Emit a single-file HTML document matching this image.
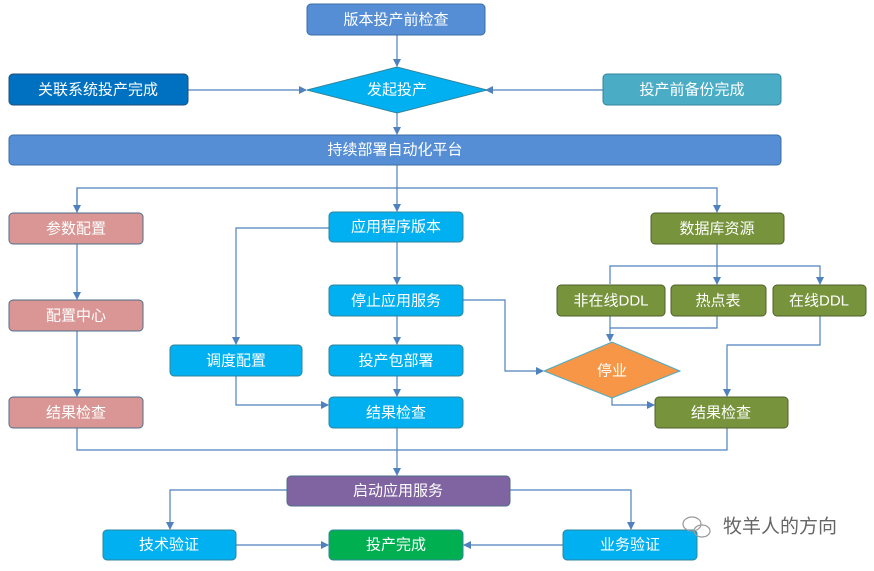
<!DOCTYPE html>
<html><head><meta charset="utf-8"><style>
body{margin:0;background:#fff;}
text{font-family:"Liberation Sans","Noto Sans CJK SC",sans-serif;font-size:15px;fill:#fff;text-anchor:middle;dominant-baseline:central;}
</style></head><body>
<svg width="874" height="566" viewBox="0 0 874 566" xmlns="http://www.w3.org/2000/svg">
<defs><marker id="a" markerWidth="8" markerHeight="8" refX="7" refY="4" orient="auto" markerUnits="userSpaceOnUse"><path d="M0,0 L8,4 L0,8 z" fill="#4f81bd"/></marker></defs>
<g fill="none" stroke="#4f81bd" stroke-width="1.2">
<path d="M397 35V66" marker-end="url(#a)"/>
<path d="M188 90H306" marker-end="url(#a)"/>
<path d="M603 90H486" marker-end="url(#a)"/>
<path d="M397 113V134" marker-end="url(#a)"/>
<path d="M397 165V211" marker-end="url(#a)"/>
<path d="M77 212V188H717V212" marker-end="url(#a)"/>
<path d="M77 188V212" marker-end="url(#a)"/>
<path d="M77 244V299" marker-end="url(#a)"/>
<path d="M77 331V396" marker-end="url(#a)"/>
<path d="M397 242V284" marker-end="url(#a)"/>
<path d="M397 316V344" marker-end="url(#a)"/>
<path d="M397 376V396" marker-end="url(#a)"/>
<path d="M329 228H236V344" marker-end="url(#a)"/>
<path d="M236 376V405H328" marker-end="url(#a)"/>
<path d="M463 300H505V371H543" marker-end="url(#a)"/>
<path d="M717 244V284" marker-end="url(#a)"/>
<path d="M610 284V266H820V284" marker-end="url(#a)"/>
<path d="M717 316V328H610" />
<path d="M610 316V341" marker-end="url(#a)"/>
<path d="M820 316V345H727V396" marker-end="url(#a)"/>
<path d="M612 398V405H654" marker-end="url(#a)"/>
<path d="M77 428V450H727V428"/>
<path d="M397 428V475" marker-end="url(#a)"/>
<path d="M287 490H170V529" marker-end="url(#a)"/>
<path d="M510 490H631V529" marker-end="url(#a)"/>
<path d="M236 545H328" marker-end="url(#a)"/>
<path d="M563 545H464" marker-end="url(#a)"/>
</g>
<g stroke-width="1">
<rect x="307" y="4" width="178" height="31" rx="4" fill="#558ed5" stroke="#3b6ea5"/>
<rect x="9" y="74" width="179" height="31" rx="4" fill="#0070c0" stroke="#1f4e79"/>
<polygon points="307,90 397,67 487,90 397,113" fill="#00b0f0" stroke="#31859c"/>
<rect x="603" y="74" width="178" height="31" rx="4" fill="#4bacc6" stroke="#31859c"/>
<rect x="9" y="135" width="772" height="30" rx="4" fill="#558ed5" stroke="#3b6ea5"/>
<rect x="9" y="213" width="134" height="31" rx="4" fill="#d99694" stroke="#4f6d8a"/>
<rect x="329" y="212" width="134" height="30" rx="4" fill="#00b0f0" stroke="#31859c"/>
<rect x="651" y="213" width="133" height="31" rx="4" fill="#77933c" stroke="#4f6228"/>
<rect x="9" y="300" width="134" height="31" rx="4" fill="#d99694" stroke="#4f6d8a"/>
<rect x="329" y="285" width="134" height="31" rx="4" fill="#00b0f0" stroke="#31859c"/>
<rect x="557" y="285" width="108" height="31" rx="4" fill="#77933c" stroke="#4f6228"/>
<rect x="671" y="285" width="95" height="31" rx="4" fill="#77933c" stroke="#4f6228"/>
<rect x="773" y="285" width="93" height="31" rx="4" fill="#77933c" stroke="#4f6228"/>
<rect x="170" y="345" width="132" height="31" rx="4" fill="#00b0f0" stroke="#31859c"/>
<rect x="329" y="345" width="134" height="31" rx="4" fill="#00b0f0" stroke="#31859c"/>
<polygon points="544,371 612,342 680,371 612,398" fill="#f79646" stroke="#4bacc6"/>
<rect x="9" y="397" width="134" height="31" rx="4" fill="#d99694" stroke="#4f6d8a"/>
<rect x="329" y="397" width="134" height="31" rx="4" fill="#00b0f0" stroke="#31859c"/>
<rect x="655" y="397" width="133" height="31" rx="4" fill="#77933c" stroke="#4f6228"/>
<rect x="287" y="476" width="223" height="30" rx="4" fill="#8064a2" stroke="#4f6d8a"/>
<rect x="103" y="530" width="133" height="30" rx="4" fill="#00b0f0" stroke="#31859c"/>
<rect x="329" y="530" width="134" height="30" rx="4" fill="#00b050" stroke="#31859c"/>
<rect x="563" y="530" width="134" height="30" rx="4" fill="#00b0f0" stroke="#31859c"/>
</g>
<text x="396" y="20">版本投产前检查</text>
<text x="98" y="90">关联系统投产完成</text>
<text x="397" y="90">发起投产</text>
<text x="692" y="90">投产前备份完成</text>
<text x="395" y="150">持续部署自动化平台</text>
<text x="76" y="229">参数配置</text>
<text x="396" y="227">应用程序版本</text>
<text x="717" y="229">数据库资源</text>
<text x="76" y="316">配置中心</text>
<text x="396" y="301">停止应用服务</text>
<text x="611" y="301">非在线DDL</text>
<text x="718" y="301">热点表</text>
<text x="819" y="301">在线DDL</text>
<text x="236" y="361">调度配置</text>
<text x="396" y="361">投产包部署</text>
<text x="612" y="371">停业</text>
<text x="76" y="413">结果检查</text>
<text x="396" y="413">结果检查</text>
<text x="721" y="413">结果检查</text>
<text x="398" y="491">启动应用服务</text>
<text x="169" y="545">技术验证</text>
<text x="396" y="545">投产完成</text>
<text x="630" y="545">业务验证</text>
<g fill="none" stroke="#999" stroke-width="1.2"><ellipse cx="692" cy="524" rx="9" ry="7"/><ellipse cx="702" cy="531" rx="8" ry="6"/></g>
<text x="780" y="527" style="fill:#666;font-size:19px">牧羊人的方向</text>
</svg>
</body></html>
